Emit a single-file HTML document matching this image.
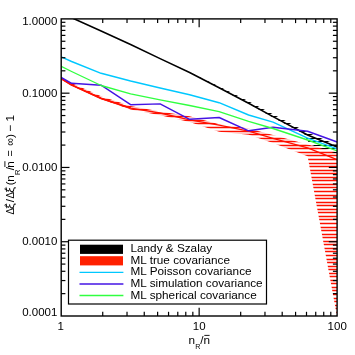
<!DOCTYPE html>
<html><head><meta charset="utf-8"><title>chart</title>
<style>html,body{margin:0;padding:0;background:#fff;}body{width:355px;height:355px;overflow:hidden;position:relative;font-family:"Liberation Sans",sans-serif;}</style>
</head><body>
<svg width="355" height="355" viewBox="0 0 355 355" style="position:absolute;left:0;top:0;opacity:0.999;will-change:opacity">
<defs><clipPath id="plot"><rect x="61.2" y="18.9" width="275.90000000000003" height="297.1"/></clipPath>
<clipPath id="cb"><polygon points="61.20,13.00 71.60,17.70 101.10,31.00 130.60,44.60 160.10,58.60 189.60,72.20 219.10,86.60 248.60,101.30 273.00,114.20 307.60,132.50 337.10,144.90 337.10,154.00 331.40,152.00 321.20,148.40 311.00,144.80 307.30,140.60 304.50,134.20 273.00,117.40 248.60,103.70 219.10,88.00 189.60,72.60 160.10,58.60 130.60,44.60 101.10,31.00 71.60,17.70 61.20,13.00"/></clipPath>
<clipPath id="cr"><polygon points="61.20,77.60 71.60,83.00 101.10,96.30 130.60,106.00 160.10,111.40 189.60,116.30 219.10,124.20 248.60,128.60 273.00,135.00 307.60,144.40 337.10,152.00 337.10,317.00 307.60,156.20 273.00,143.00 248.60,134.80 219.10,131.70 189.60,122.10 160.10,115.20 130.60,109.60 101.10,99.00 71.60,85.50 61.20,79.00"/></clipPath></defs>
<g clip-path="url(#plot)">
<polyline points="61.20,13.00 71.60,17.70 101.10,31.00 130.60,44.60 160.10,58.60 189.60,72.50 219.10,87.70 248.60,103.20 273.00,116.60 307.60,134.90 337.10,147.00" fill="none" stroke="#000" stroke-width="1.6"/>
<g clip-path="url(#cr)"><line x1="61.2" x2="337.1" y1="20.50" y2="20.50" stroke="#ff1000" stroke-width="1.45"/><line x1="61.2" x2="337.1" y1="24.50" y2="24.50" stroke="#ff1000" stroke-width="1.45"/><line x1="61.2" x2="337.1" y1="27.50" y2="27.50" stroke="#ff1000" stroke-width="1.45"/><line x1="61.2" x2="337.1" y1="31.50" y2="31.50" stroke="#ff1000" stroke-width="1.45"/><line x1="61.2" x2="337.1" y1="35.50" y2="35.50" stroke="#ff1000" stroke-width="1.45"/><line x1="61.2" x2="337.1" y1="38.50" y2="38.50" stroke="#ff1000" stroke-width="1.45"/><line x1="61.2" x2="337.1" y1="42.50" y2="42.50" stroke="#ff1000" stroke-width="1.45"/><line x1="61.2" x2="337.1" y1="45.50" y2="45.50" stroke="#ff1000" stroke-width="1.45"/><line x1="61.2" x2="337.1" y1="49.50" y2="49.50" stroke="#ff1000" stroke-width="1.45"/><line x1="61.2" x2="337.1" y1="52.50" y2="52.50" stroke="#ff1000" stroke-width="1.45"/><line x1="61.2" x2="337.1" y1="56.50" y2="56.50" stroke="#ff1000" stroke-width="1.45"/><line x1="61.2" x2="337.1" y1="59.50" y2="59.50" stroke="#ff1000" stroke-width="1.45"/><line x1="61.2" x2="337.1" y1="63.50" y2="63.50" stroke="#ff1000" stroke-width="1.45"/><line x1="61.2" x2="337.1" y1="67.50" y2="67.50" stroke="#ff1000" stroke-width="1.45"/><line x1="61.2" x2="337.1" y1="70.50" y2="70.50" stroke="#ff1000" stroke-width="1.45"/><line x1="61.2" x2="337.1" y1="74.50" y2="74.50" stroke="#ff1000" stroke-width="1.45"/><line x1="61.2" x2="337.1" y1="77.50" y2="77.50" stroke="#ff1000" stroke-width="1.45"/><line x1="61.2" x2="337.1" y1="81.50" y2="81.50" stroke="#ff1000" stroke-width="1.45"/><line x1="61.2" x2="337.1" y1="84.50" y2="84.50" stroke="#ff1000" stroke-width="1.45"/><line x1="61.2" x2="337.1" y1="88.50" y2="88.50" stroke="#ff1000" stroke-width="1.45"/><line x1="61.2" x2="337.1" y1="91.50" y2="91.50" stroke="#ff1000" stroke-width="1.45"/><line x1="61.2" x2="337.1" y1="95.50" y2="95.50" stroke="#ff1000" stroke-width="1.45"/><line x1="61.2" x2="337.1" y1="99.50" y2="99.50" stroke="#ff1000" stroke-width="1.45"/><line x1="61.2" x2="337.1" y1="102.50" y2="102.50" stroke="#ff1000" stroke-width="1.45"/><line x1="61.2" x2="337.1" y1="106.50" y2="106.50" stroke="#ff1000" stroke-width="1.45"/><line x1="61.2" x2="337.1" y1="109.50" y2="109.50" stroke="#ff1000" stroke-width="1.45"/><line x1="61.2" x2="337.1" y1="113.50" y2="113.50" stroke="#ff1000" stroke-width="1.45"/><line x1="61.2" x2="337.1" y1="116.50" y2="116.50" stroke="#ff1000" stroke-width="1.45"/><line x1="61.2" x2="337.1" y1="120.50" y2="120.50" stroke="#ff1000" stroke-width="1.45"/><line x1="61.2" x2="337.1" y1="123.50" y2="123.50" stroke="#ff1000" stroke-width="1.45"/><line x1="61.2" x2="337.1" y1="127.50" y2="127.50" stroke="#ff1000" stroke-width="1.45"/><line x1="61.2" x2="337.1" y1="131.50" y2="131.50" stroke="#ff1000" stroke-width="1.45"/><line x1="61.2" x2="337.1" y1="134.50" y2="134.50" stroke="#ff1000" stroke-width="1.45"/><line x1="61.2" x2="337.1" y1="138.50" y2="138.50" stroke="#ff1000" stroke-width="1.45"/><line x1="61.2" x2="337.1" y1="141.50" y2="141.50" stroke="#ff1000" stroke-width="1.45"/><line x1="61.2" x2="337.1" y1="145.50" y2="145.50" stroke="#ff1000" stroke-width="1.45"/><line x1="61.2" x2="337.1" y1="148.50" y2="148.50" stroke="#ff1000" stroke-width="1.45"/><line x1="61.2" x2="337.1" y1="152.50" y2="152.50" stroke="#ff1000" stroke-width="1.45"/><line x1="61.2" x2="337.1" y1="155.50" y2="155.50" stroke="#ff1000" stroke-width="1.45"/><line x1="61.2" x2="337.1" y1="159.50" y2="159.50" stroke="#ff1000" stroke-width="1.45"/><line x1="61.2" x2="337.1" y1="163.50" y2="163.50" stroke="#ff1000" stroke-width="1.45"/><line x1="61.2" x2="337.1" y1="166.50" y2="166.50" stroke="#ff1000" stroke-width="1.45"/><line x1="61.2" x2="337.1" y1="170.50" y2="170.50" stroke="#ff1000" stroke-width="1.45"/><line x1="61.2" x2="337.1" y1="173.50" y2="173.50" stroke="#ff1000" stroke-width="1.45"/><line x1="61.2" x2="337.1" y1="177.50" y2="177.50" stroke="#ff1000" stroke-width="1.45"/><line x1="61.2" x2="337.1" y1="180.50" y2="180.50" stroke="#ff1000" stroke-width="1.45"/><line x1="61.2" x2="337.1" y1="184.50" y2="184.50" stroke="#ff1000" stroke-width="1.45"/><line x1="61.2" x2="337.1" y1="187.50" y2="187.50" stroke="#ff1000" stroke-width="1.45"/><line x1="61.2" x2="337.1" y1="191.50" y2="191.50" stroke="#ff1000" stroke-width="1.45"/><line x1="61.2" x2="337.1" y1="195.50" y2="195.50" stroke="#ff1000" stroke-width="1.45"/><line x1="61.2" x2="337.1" y1="198.50" y2="198.50" stroke="#ff1000" stroke-width="1.45"/><line x1="61.2" x2="337.1" y1="202.50" y2="202.50" stroke="#ff1000" stroke-width="1.45"/><line x1="61.2" x2="337.1" y1="205.50" y2="205.50" stroke="#ff1000" stroke-width="1.45"/><line x1="61.2" x2="337.1" y1="209.50" y2="209.50" stroke="#ff1000" stroke-width="1.45"/><line x1="61.2" x2="337.1" y1="212.50" y2="212.50" stroke="#ff1000" stroke-width="1.45"/><line x1="61.2" x2="337.1" y1="216.50" y2="216.50" stroke="#ff1000" stroke-width="1.45"/><line x1="61.2" x2="337.1" y1="219.50" y2="219.50" stroke="#ff1000" stroke-width="1.45"/><line x1="61.2" x2="337.1" y1="223.50" y2="223.50" stroke="#ff1000" stroke-width="1.45"/><line x1="61.2" x2="337.1" y1="227.50" y2="227.50" stroke="#ff1000" stroke-width="1.45"/><line x1="61.2" x2="337.1" y1="230.50" y2="230.50" stroke="#ff1000" stroke-width="1.45"/><line x1="61.2" x2="337.1" y1="234.50" y2="234.50" stroke="#ff1000" stroke-width="1.45"/><line x1="61.2" x2="337.1" y1="237.50" y2="237.50" stroke="#ff1000" stroke-width="1.45"/><line x1="61.2" x2="337.1" y1="241.50" y2="241.50" stroke="#ff1000" stroke-width="1.45"/><line x1="61.2" x2="337.1" y1="244.50" y2="244.50" stroke="#ff1000" stroke-width="1.45"/><line x1="61.2" x2="337.1" y1="248.50" y2="248.50" stroke="#ff1000" stroke-width="1.45"/><line x1="61.2" x2="337.1" y1="251.50" y2="251.50" stroke="#ff1000" stroke-width="1.45"/><line x1="61.2" x2="337.1" y1="255.50" y2="255.50" stroke="#ff1000" stroke-width="1.45"/><line x1="61.2" x2="337.1" y1="259.50" y2="259.50" stroke="#ff1000" stroke-width="1.45"/><line x1="61.2" x2="337.1" y1="262.50" y2="262.50" stroke="#ff1000" stroke-width="1.45"/><line x1="61.2" x2="337.1" y1="266.50" y2="266.50" stroke="#ff1000" stroke-width="1.45"/><line x1="61.2" x2="337.1" y1="269.50" y2="269.50" stroke="#ff1000" stroke-width="1.45"/><line x1="61.2" x2="337.1" y1="273.50" y2="273.50" stroke="#ff1000" stroke-width="1.45"/><line x1="61.2" x2="337.1" y1="276.50" y2="276.50" stroke="#ff1000" stroke-width="1.45"/><line x1="61.2" x2="337.1" y1="280.50" y2="280.50" stroke="#ff1000" stroke-width="1.45"/><line x1="61.2" x2="337.1" y1="283.50" y2="283.50" stroke="#ff1000" stroke-width="1.45"/><line x1="61.2" x2="337.1" y1="287.50" y2="287.50" stroke="#ff1000" stroke-width="1.45"/><line x1="61.2" x2="337.1" y1="290.50" y2="290.50" stroke="#ff1000" stroke-width="1.45"/><line x1="61.2" x2="337.1" y1="294.50" y2="294.50" stroke="#ff1000" stroke-width="1.45"/><line x1="61.2" x2="337.1" y1="298.50" y2="298.50" stroke="#ff1000" stroke-width="1.45"/><line x1="61.2" x2="337.1" y1="301.50" y2="301.50" stroke="#ff1000" stroke-width="1.45"/><line x1="61.2" x2="337.1" y1="305.50" y2="305.50" stroke="#ff1000" stroke-width="1.45"/><line x1="61.2" x2="337.1" y1="308.50" y2="308.50" stroke="#ff1000" stroke-width="1.45"/><line x1="61.2" x2="337.1" y1="312.50" y2="312.50" stroke="#ff1000" stroke-width="1.45"/><line x1="61.2" x2="337.1" y1="315.50" y2="315.50" stroke="#ff1000" stroke-width="1.45"/></g>
<polyline points="61.20,78.50 71.60,85.00 101.10,98.40 130.60,108.10 160.10,113.00 189.60,119.80 219.10,125.10 248.60,131.20 273.00,138.40 307.60,147.80 337.10,159.60" fill="none" stroke="#ff1000" stroke-width="1.3" stroke-linejoin="round"/>
<polyline points="61.20,78.50 71.60,85.00 101.10,98.40 130.60,108.10" fill="none" stroke="#ff1000" stroke-width="1.8" stroke-linejoin="round"/>
<g clip-path="url(#cb)"><line x1="61.2" x2="337.1" y1="20.50" y2="20.50" stroke="#000" stroke-width="1.2"/><line x1="61.2" x2="337.1" y1="24.50" y2="24.50" stroke="#000" stroke-width="1.2"/><line x1="61.2" x2="337.1" y1="27.50" y2="27.50" stroke="#000" stroke-width="1.2"/><line x1="61.2" x2="337.1" y1="31.50" y2="31.50" stroke="#000" stroke-width="1.2"/><line x1="61.2" x2="337.1" y1="35.50" y2="35.50" stroke="#000" stroke-width="1.2"/><line x1="61.2" x2="337.1" y1="38.50" y2="38.50" stroke="#000" stroke-width="1.2"/><line x1="61.2" x2="337.1" y1="42.50" y2="42.50" stroke="#000" stroke-width="1.2"/><line x1="61.2" x2="337.1" y1="45.50" y2="45.50" stroke="#000" stroke-width="1.2"/><line x1="61.2" x2="337.1" y1="49.50" y2="49.50" stroke="#000" stroke-width="1.2"/><line x1="61.2" x2="337.1" y1="52.50" y2="52.50" stroke="#000" stroke-width="1.2"/><line x1="61.2" x2="337.1" y1="56.50" y2="56.50" stroke="#000" stroke-width="1.2"/><line x1="61.2" x2="337.1" y1="59.50" y2="59.50" stroke="#000" stroke-width="1.2"/><line x1="61.2" x2="337.1" y1="63.50" y2="63.50" stroke="#000" stroke-width="1.2"/><line x1="61.2" x2="337.1" y1="67.50" y2="67.50" stroke="#000" stroke-width="1.2"/><line x1="61.2" x2="337.1" y1="70.50" y2="70.50" stroke="#000" stroke-width="1.2"/><line x1="61.2" x2="337.1" y1="74.50" y2="74.50" stroke="#000" stroke-width="1.2"/><line x1="61.2" x2="337.1" y1="77.50" y2="77.50" stroke="#000" stroke-width="1.2"/><line x1="61.2" x2="337.1" y1="81.50" y2="81.50" stroke="#000" stroke-width="1.2"/><line x1="61.2" x2="337.1" y1="84.50" y2="84.50" stroke="#000" stroke-width="1.2"/><line x1="61.2" x2="337.1" y1="88.50" y2="88.50" stroke="#000" stroke-width="1.2"/><line x1="61.2" x2="337.1" y1="91.50" y2="91.50" stroke="#000" stroke-width="1.2"/><line x1="61.2" x2="337.1" y1="95.50" y2="95.50" stroke="#000" stroke-width="1.2"/><line x1="61.2" x2="337.1" y1="99.50" y2="99.50" stroke="#000" stroke-width="1.2"/><line x1="61.2" x2="337.1" y1="102.50" y2="102.50" stroke="#000" stroke-width="1.2"/><line x1="61.2" x2="337.1" y1="106.50" y2="106.50" stroke="#000" stroke-width="1.2"/><line x1="61.2" x2="337.1" y1="109.50" y2="109.50" stroke="#000" stroke-width="1.2"/><line x1="61.2" x2="337.1" y1="113.50" y2="113.50" stroke="#000" stroke-width="1.2"/><line x1="61.2" x2="337.1" y1="116.50" y2="116.50" stroke="#000" stroke-width="1.2"/><line x1="61.2" x2="337.1" y1="120.50" y2="120.50" stroke="#000" stroke-width="1.2"/><line x1="61.2" x2="337.1" y1="123.50" y2="123.50" stroke="#000" stroke-width="1.2"/><line x1="61.2" x2="337.1" y1="127.50" y2="127.50" stroke="#000" stroke-width="1.2"/><line x1="61.2" x2="337.1" y1="131.50" y2="131.50" stroke="#000" stroke-width="1.2"/><line x1="61.2" x2="337.1" y1="134.50" y2="134.50" stroke="#000" stroke-width="1.2"/><line x1="61.2" x2="337.1" y1="138.50" y2="138.50" stroke="#000" stroke-width="1.2"/><line x1="61.2" x2="337.1" y1="141.50" y2="141.50" stroke="#000" stroke-width="1.2"/><line x1="61.2" x2="337.1" y1="145.50" y2="145.50" stroke="#000" stroke-width="1.2"/><line x1="61.2" x2="337.1" y1="148.50" y2="148.50" stroke="#000" stroke-width="1.2"/><line x1="61.2" x2="337.1" y1="152.50" y2="152.50" stroke="#000" stroke-width="1.2"/><line x1="61.2" x2="337.1" y1="155.50" y2="155.50" stroke="#000" stroke-width="1.2"/><line x1="61.2" x2="337.1" y1="159.50" y2="159.50" stroke="#000" stroke-width="1.2"/><line x1="61.2" x2="337.1" y1="163.50" y2="163.50" stroke="#000" stroke-width="1.2"/><line x1="61.2" x2="337.1" y1="166.50" y2="166.50" stroke="#000" stroke-width="1.2"/><line x1="61.2" x2="337.1" y1="170.50" y2="170.50" stroke="#000" stroke-width="1.2"/><line x1="61.2" x2="337.1" y1="173.50" y2="173.50" stroke="#000" stroke-width="1.2"/><line x1="61.2" x2="337.1" y1="177.50" y2="177.50" stroke="#000" stroke-width="1.2"/><line x1="61.2" x2="337.1" y1="180.50" y2="180.50" stroke="#000" stroke-width="1.2"/><line x1="61.2" x2="337.1" y1="184.50" y2="184.50" stroke="#000" stroke-width="1.2"/><line x1="61.2" x2="337.1" y1="187.50" y2="187.50" stroke="#000" stroke-width="1.2"/><line x1="61.2" x2="337.1" y1="191.50" y2="191.50" stroke="#000" stroke-width="1.2"/><line x1="61.2" x2="337.1" y1="195.50" y2="195.50" stroke="#000" stroke-width="1.2"/><line x1="61.2" x2="337.1" y1="198.50" y2="198.50" stroke="#000" stroke-width="1.2"/><line x1="61.2" x2="337.1" y1="202.50" y2="202.50" stroke="#000" stroke-width="1.2"/><line x1="61.2" x2="337.1" y1="205.50" y2="205.50" stroke="#000" stroke-width="1.2"/><line x1="61.2" x2="337.1" y1="209.50" y2="209.50" stroke="#000" stroke-width="1.2"/><line x1="61.2" x2="337.1" y1="212.50" y2="212.50" stroke="#000" stroke-width="1.2"/><line x1="61.2" x2="337.1" y1="216.50" y2="216.50" stroke="#000" stroke-width="1.2"/><line x1="61.2" x2="337.1" y1="219.50" y2="219.50" stroke="#000" stroke-width="1.2"/><line x1="61.2" x2="337.1" y1="223.50" y2="223.50" stroke="#000" stroke-width="1.2"/><line x1="61.2" x2="337.1" y1="227.50" y2="227.50" stroke="#000" stroke-width="1.2"/><line x1="61.2" x2="337.1" y1="230.50" y2="230.50" stroke="#000" stroke-width="1.2"/><line x1="61.2" x2="337.1" y1="234.50" y2="234.50" stroke="#000" stroke-width="1.2"/><line x1="61.2" x2="337.1" y1="237.50" y2="237.50" stroke="#000" stroke-width="1.2"/><line x1="61.2" x2="337.1" y1="241.50" y2="241.50" stroke="#000" stroke-width="1.2"/><line x1="61.2" x2="337.1" y1="244.50" y2="244.50" stroke="#000" stroke-width="1.2"/><line x1="61.2" x2="337.1" y1="248.50" y2="248.50" stroke="#000" stroke-width="1.2"/><line x1="61.2" x2="337.1" y1="251.50" y2="251.50" stroke="#000" stroke-width="1.2"/><line x1="61.2" x2="337.1" y1="255.50" y2="255.50" stroke="#000" stroke-width="1.2"/><line x1="61.2" x2="337.1" y1="259.50" y2="259.50" stroke="#000" stroke-width="1.2"/><line x1="61.2" x2="337.1" y1="262.50" y2="262.50" stroke="#000" stroke-width="1.2"/><line x1="61.2" x2="337.1" y1="266.50" y2="266.50" stroke="#000" stroke-width="1.2"/><line x1="61.2" x2="337.1" y1="269.50" y2="269.50" stroke="#000" stroke-width="1.2"/><line x1="61.2" x2="337.1" y1="273.50" y2="273.50" stroke="#000" stroke-width="1.2"/><line x1="61.2" x2="337.1" y1="276.50" y2="276.50" stroke="#000" stroke-width="1.2"/><line x1="61.2" x2="337.1" y1="280.50" y2="280.50" stroke="#000" stroke-width="1.2"/><line x1="61.2" x2="337.1" y1="283.50" y2="283.50" stroke="#000" stroke-width="1.2"/><line x1="61.2" x2="337.1" y1="287.50" y2="287.50" stroke="#000" stroke-width="1.2"/><line x1="61.2" x2="337.1" y1="290.50" y2="290.50" stroke="#000" stroke-width="1.2"/><line x1="61.2" x2="337.1" y1="294.50" y2="294.50" stroke="#000" stroke-width="1.2"/><line x1="61.2" x2="337.1" y1="298.50" y2="298.50" stroke="#000" stroke-width="1.2"/><line x1="61.2" x2="337.1" y1="301.50" y2="301.50" stroke="#000" stroke-width="1.2"/><line x1="61.2" x2="337.1" y1="305.50" y2="305.50" stroke="#000" stroke-width="1.2"/><line x1="61.2" x2="337.1" y1="308.50" y2="308.50" stroke="#000" stroke-width="1.2"/><line x1="61.2" x2="337.1" y1="312.50" y2="312.50" stroke="#000" stroke-width="1.2"/><line x1="61.2" x2="337.1" y1="315.50" y2="315.50" stroke="#000" stroke-width="1.2"/></g>
<polyline points="61.20,56.80 71.60,61.50 101.10,73.30 130.60,81.00 160.10,88.00 189.60,94.70 219.10,102.70 248.60,115.00 273.00,122.10 307.60,138.20 337.10,148.90" fill="none" stroke="#00c8ff" stroke-width="1.4" stroke-linejoin="round"/>
<polyline points="61.20,77.50 71.60,83.30 101.10,85.20 130.60,104.70 160.10,103.90 189.60,119.30 219.10,117.50 248.60,130.80 273.00,127.30 307.60,131.30 337.10,142.00" fill="none" stroke="#4414e4" stroke-width="1.45" stroke-linejoin="round"/>
<polyline points="61.20,66.40 71.60,71.50 101.10,85.50 130.60,93.80 160.10,99.80 189.60,105.50 219.10,111.70 248.60,121.30 273.00,128.50 307.60,140.00 337.10,150.90" fill="none" stroke="#30ff40" stroke-width="1.35" stroke-linejoin="round"/>
</g>
<rect x="61.2" y="18.9" width="275.90000000000003" height="297.1" fill="none" stroke="#000" stroke-width="1.4"/><line x1="102.73" x2="102.73" y1="316.0" y2="311.8" stroke="#000" stroke-width="1.2"/><line x1="102.73" x2="102.73" y1="18.9" y2="23.099999999999998" stroke="#000" stroke-width="1.2"/><line x1="127.02" x2="127.02" y1="316.0" y2="311.8" stroke="#000" stroke-width="1.2"/><line x1="127.02" x2="127.02" y1="18.9" y2="23.099999999999998" stroke="#000" stroke-width="1.2"/><line x1="144.25" x2="144.25" y1="316.0" y2="311.8" stroke="#000" stroke-width="1.2"/><line x1="144.25" x2="144.25" y1="18.9" y2="23.099999999999998" stroke="#000" stroke-width="1.2"/><line x1="157.62" x2="157.62" y1="316.0" y2="311.8" stroke="#000" stroke-width="1.2"/><line x1="157.62" x2="157.62" y1="18.9" y2="23.099999999999998" stroke="#000" stroke-width="1.2"/><line x1="168.55" x2="168.55" y1="316.0" y2="311.8" stroke="#000" stroke-width="1.2"/><line x1="168.55" x2="168.55" y1="18.9" y2="23.099999999999998" stroke="#000" stroke-width="1.2"/><line x1="177.78" x2="177.78" y1="316.0" y2="311.8" stroke="#000" stroke-width="1.2"/><line x1="177.78" x2="177.78" y1="18.9" y2="23.099999999999998" stroke="#000" stroke-width="1.2"/><line x1="185.78" x2="185.78" y1="316.0" y2="311.8" stroke="#000" stroke-width="1.2"/><line x1="185.78" x2="185.78" y1="18.9" y2="23.099999999999998" stroke="#000" stroke-width="1.2"/><line x1="192.84" x2="192.84" y1="316.0" y2="311.8" stroke="#000" stroke-width="1.2"/><line x1="192.84" x2="192.84" y1="18.9" y2="23.099999999999998" stroke="#000" stroke-width="1.2"/><line x1="199.15" x2="199.15" y1="316.0" y2="307.7" stroke="#000" stroke-width="1.2"/><line x1="199.15" x2="199.15" y1="18.9" y2="27.2" stroke="#000" stroke-width="1.2"/><line x1="240.68" x2="240.68" y1="316.0" y2="311.8" stroke="#000" stroke-width="1.2"/><line x1="240.68" x2="240.68" y1="18.9" y2="23.099999999999998" stroke="#000" stroke-width="1.2"/><line x1="264.97" x2="264.97" y1="316.0" y2="311.8" stroke="#000" stroke-width="1.2"/><line x1="264.97" x2="264.97" y1="18.9" y2="23.099999999999998" stroke="#000" stroke-width="1.2"/><line x1="282.20" x2="282.20" y1="316.0" y2="311.8" stroke="#000" stroke-width="1.2"/><line x1="282.20" x2="282.20" y1="18.9" y2="23.099999999999998" stroke="#000" stroke-width="1.2"/><line x1="295.57" x2="295.57" y1="316.0" y2="311.8" stroke="#000" stroke-width="1.2"/><line x1="295.57" x2="295.57" y1="18.9" y2="23.099999999999998" stroke="#000" stroke-width="1.2"/><line x1="306.50" x2="306.50" y1="316.0" y2="311.8" stroke="#000" stroke-width="1.2"/><line x1="306.50" x2="306.50" y1="18.9" y2="23.099999999999998" stroke="#000" stroke-width="1.2"/><line x1="315.73" x2="315.73" y1="316.0" y2="311.8" stroke="#000" stroke-width="1.2"/><line x1="315.73" x2="315.73" y1="18.9" y2="23.099999999999998" stroke="#000" stroke-width="1.2"/><line x1="323.73" x2="323.73" y1="316.0" y2="311.8" stroke="#000" stroke-width="1.2"/><line x1="323.73" x2="323.73" y1="18.9" y2="23.099999999999998" stroke="#000" stroke-width="1.2"/><line x1="330.79" x2="330.79" y1="316.0" y2="311.8" stroke="#000" stroke-width="1.2"/><line x1="330.79" x2="330.79" y1="18.9" y2="23.099999999999998" stroke="#000" stroke-width="1.2"/><line x1="61.2" x2="65.4" y1="293.64" y2="293.64" stroke="#000" stroke-width="1.2"/><line x1="337.1" x2="332.90000000000003" y1="293.64" y2="293.64" stroke="#000" stroke-width="1.2"/><line x1="61.2" x2="65.4" y1="280.56" y2="280.56" stroke="#000" stroke-width="1.2"/><line x1="337.1" x2="332.90000000000003" y1="280.56" y2="280.56" stroke="#000" stroke-width="1.2"/><line x1="61.2" x2="65.4" y1="271.28" y2="271.28" stroke="#000" stroke-width="1.2"/><line x1="337.1" x2="332.90000000000003" y1="271.28" y2="271.28" stroke="#000" stroke-width="1.2"/><line x1="61.2" x2="65.4" y1="264.08" y2="264.08" stroke="#000" stroke-width="1.2"/><line x1="337.1" x2="332.90000000000003" y1="264.08" y2="264.08" stroke="#000" stroke-width="1.2"/><line x1="61.2" x2="65.4" y1="258.20" y2="258.20" stroke="#000" stroke-width="1.2"/><line x1="337.1" x2="332.90000000000003" y1="258.20" y2="258.20" stroke="#000" stroke-width="1.2"/><line x1="61.2" x2="65.4" y1="253.23" y2="253.23" stroke="#000" stroke-width="1.2"/><line x1="337.1" x2="332.90000000000003" y1="253.23" y2="253.23" stroke="#000" stroke-width="1.2"/><line x1="61.2" x2="65.4" y1="248.92" y2="248.92" stroke="#000" stroke-width="1.2"/><line x1="337.1" x2="332.90000000000003" y1="248.92" y2="248.92" stroke="#000" stroke-width="1.2"/><line x1="61.2" x2="65.4" y1="245.12" y2="245.12" stroke="#000" stroke-width="1.2"/><line x1="337.1" x2="332.90000000000003" y1="245.12" y2="245.12" stroke="#000" stroke-width="1.2"/><line x1="61.2" x2="69.5" y1="241.73" y2="241.73" stroke="#000" stroke-width="1.2"/><line x1="337.1" x2="328.8" y1="241.73" y2="241.73" stroke="#000" stroke-width="1.2"/><line x1="61.2" x2="65.4" y1="219.37" y2="219.37" stroke="#000" stroke-width="1.2"/><line x1="337.1" x2="332.90000000000003" y1="219.37" y2="219.37" stroke="#000" stroke-width="1.2"/><line x1="61.2" x2="65.4" y1="206.29" y2="206.29" stroke="#000" stroke-width="1.2"/><line x1="337.1" x2="332.90000000000003" y1="206.29" y2="206.29" stroke="#000" stroke-width="1.2"/><line x1="61.2" x2="65.4" y1="197.01" y2="197.01" stroke="#000" stroke-width="1.2"/><line x1="337.1" x2="332.90000000000003" y1="197.01" y2="197.01" stroke="#000" stroke-width="1.2"/><line x1="61.2" x2="65.4" y1="189.81" y2="189.81" stroke="#000" stroke-width="1.2"/><line x1="337.1" x2="332.90000000000003" y1="189.81" y2="189.81" stroke="#000" stroke-width="1.2"/><line x1="61.2" x2="65.4" y1="183.93" y2="183.93" stroke="#000" stroke-width="1.2"/><line x1="337.1" x2="332.90000000000003" y1="183.93" y2="183.93" stroke="#000" stroke-width="1.2"/><line x1="61.2" x2="65.4" y1="178.96" y2="178.96" stroke="#000" stroke-width="1.2"/><line x1="337.1" x2="332.90000000000003" y1="178.96" y2="178.96" stroke="#000" stroke-width="1.2"/><line x1="61.2" x2="65.4" y1="174.65" y2="174.65" stroke="#000" stroke-width="1.2"/><line x1="337.1" x2="332.90000000000003" y1="174.65" y2="174.65" stroke="#000" stroke-width="1.2"/><line x1="61.2" x2="65.4" y1="170.85" y2="170.85" stroke="#000" stroke-width="1.2"/><line x1="337.1" x2="332.90000000000003" y1="170.85" y2="170.85" stroke="#000" stroke-width="1.2"/><line x1="61.2" x2="69.5" y1="167.45" y2="167.45" stroke="#000" stroke-width="1.2"/><line x1="337.1" x2="328.8" y1="167.45" y2="167.45" stroke="#000" stroke-width="1.2"/><line x1="61.2" x2="65.4" y1="145.09" y2="145.09" stroke="#000" stroke-width="1.2"/><line x1="337.1" x2="332.90000000000003" y1="145.09" y2="145.09" stroke="#000" stroke-width="1.2"/><line x1="61.2" x2="65.4" y1="132.01" y2="132.01" stroke="#000" stroke-width="1.2"/><line x1="337.1" x2="332.90000000000003" y1="132.01" y2="132.01" stroke="#000" stroke-width="1.2"/><line x1="61.2" x2="65.4" y1="122.73" y2="122.73" stroke="#000" stroke-width="1.2"/><line x1="337.1" x2="332.90000000000003" y1="122.73" y2="122.73" stroke="#000" stroke-width="1.2"/><line x1="61.2" x2="65.4" y1="115.53" y2="115.53" stroke="#000" stroke-width="1.2"/><line x1="337.1" x2="332.90000000000003" y1="115.53" y2="115.53" stroke="#000" stroke-width="1.2"/><line x1="61.2" x2="65.4" y1="109.65" y2="109.65" stroke="#000" stroke-width="1.2"/><line x1="337.1" x2="332.90000000000003" y1="109.65" y2="109.65" stroke="#000" stroke-width="1.2"/><line x1="61.2" x2="65.4" y1="104.68" y2="104.68" stroke="#000" stroke-width="1.2"/><line x1="337.1" x2="332.90000000000003" y1="104.68" y2="104.68" stroke="#000" stroke-width="1.2"/><line x1="61.2" x2="65.4" y1="100.37" y2="100.37" stroke="#000" stroke-width="1.2"/><line x1="337.1" x2="332.90000000000003" y1="100.37" y2="100.37" stroke="#000" stroke-width="1.2"/><line x1="61.2" x2="65.4" y1="96.57" y2="96.57" stroke="#000" stroke-width="1.2"/><line x1="337.1" x2="332.90000000000003" y1="96.57" y2="96.57" stroke="#000" stroke-width="1.2"/><line x1="61.2" x2="69.5" y1="93.18" y2="93.18" stroke="#000" stroke-width="1.2"/><line x1="337.1" x2="328.8" y1="93.18" y2="93.18" stroke="#000" stroke-width="1.2"/><line x1="61.2" x2="65.4" y1="70.82" y2="70.82" stroke="#000" stroke-width="1.2"/><line x1="337.1" x2="332.90000000000003" y1="70.82" y2="70.82" stroke="#000" stroke-width="1.2"/><line x1="61.2" x2="65.4" y1="57.74" y2="57.74" stroke="#000" stroke-width="1.2"/><line x1="337.1" x2="332.90000000000003" y1="57.74" y2="57.74" stroke="#000" stroke-width="1.2"/><line x1="61.2" x2="65.4" y1="48.46" y2="48.46" stroke="#000" stroke-width="1.2"/><line x1="337.1" x2="332.90000000000003" y1="48.46" y2="48.46" stroke="#000" stroke-width="1.2"/><line x1="61.2" x2="65.4" y1="41.26" y2="41.26" stroke="#000" stroke-width="1.2"/><line x1="337.1" x2="332.90000000000003" y1="41.26" y2="41.26" stroke="#000" stroke-width="1.2"/><line x1="61.2" x2="65.4" y1="35.38" y2="35.38" stroke="#000" stroke-width="1.2"/><line x1="337.1" x2="332.90000000000003" y1="35.38" y2="35.38" stroke="#000" stroke-width="1.2"/><line x1="61.2" x2="65.4" y1="30.41" y2="30.41" stroke="#000" stroke-width="1.2"/><line x1="337.1" x2="332.90000000000003" y1="30.41" y2="30.41" stroke="#000" stroke-width="1.2"/><line x1="61.2" x2="65.4" y1="26.10" y2="26.10" stroke="#000" stroke-width="1.2"/><line x1="337.1" x2="332.90000000000003" y1="26.10" y2="26.10" stroke="#000" stroke-width="1.2"/><line x1="61.2" x2="65.4" y1="22.30" y2="22.30" stroke="#000" stroke-width="1.2"/><line x1="337.1" x2="332.90000000000003" y1="22.30" y2="22.30" stroke="#000" stroke-width="1.2"/>
<rect x="68.5" y="240.2" width="198.0" height="63.80000000000001" fill="#fff" stroke="#000" stroke-width="1.2"/>
<rect x="80" y="244.7" width="43" height="9.2" fill="#000"/>
<rect x="80" y="256.2" width="43" height="9.2" fill="#ff2000"/>
<line x1="79.5" x2="123.4" y1="272.4" y2="272.4" stroke="#00c8ff" stroke-width="1.3"/>
<line x1="79.5" x2="123.4" y1="284.0" y2="284.0" stroke="#4414e4" stroke-width="1.5"/>
<line x1="79.5" x2="123.4" y1="295.6" y2="295.6" stroke="#30ff40" stroke-width="1.5"/>
<g font-family="Liberation Sans, sans-serif" fill="#000">
<text x="130.5" y="251.9" font-size="11.75" text-anchor="start" >Landy &amp; Szalay</text>
<text x="130.5" y="263.6" font-size="11.75" text-anchor="start" >ML true covariance</text>
<text x="130.5" y="275.3" font-size="11.75" text-anchor="start" >ML Poisson covariance</text>
<text x="130.5" y="287.0" font-size="11.75" text-anchor="start" >ML simulation covariance</text>
<text x="130.5" y="298.7" font-size="11.75" text-anchor="start" >ML spherical covariance</text>
<text x="57.35" y="24.9" font-size="11.5" text-anchor="end" >1.0000</text>
<text x="57.35" y="96.6" font-size="11.5" text-anchor="end" >0.1000</text>
<text x="57.35" y="171.0" font-size="11.5" text-anchor="end" >0.0100</text>
<text x="57.35" y="245.2" font-size="11.5" text-anchor="end" >0.0010</text>
<text x="57.35" y="316.0" font-size="11.5" text-anchor="end" >0.0001</text>
<text x="60.8" y="330.2" font-size="11.5" text-anchor="middle" >1</text>
<text x="199.2" y="330.2" font-size="11.5" text-anchor="middle" >10</text>
<text x="337.2" y="330.2" font-size="11.5" text-anchor="middle" >100</text>
<text x="188.5" y="343.7" font-size="11.75">n<tspan font-size="7.2" dy="5.4" dx="0.3">R</tspan><tspan dy="-5.4" dx="-0.3">/n</tspan></text>
<line x1="204.3" x2="209.6" y1="335.4" y2="335.4" stroke="#000" stroke-width="0.9"/>
<g transform="translate(13.5,214.0) rotate(-90)"><text transform="translate(-0.6,0) scale(0.83,1)" font-size="11.75">Δ</text><text transform="translate(4.7,0) scale(1.15,1)" font-size="11.75">ξ</text><text transform="translate(11.8,0) scale(1,1)" font-size="11.75">/</text><text transform="translate(15.5,0) scale(0.83,1)" font-size="11.75">Δ</text><text transform="translate(20.9,0) scale(1.15,1)" font-size="11.75">ξ</text><text transform="translate(28.65,0) scale(1,1)" font-size="11.75">(</text><text transform="translate(32.15,0) scale(1,1)" font-size="11.75">n</text><text transform="translate(38.9,6.0) scale(1,1)" font-size="7.6">R</text><text transform="translate(43.7,0) scale(1,1)" font-size="11.75">/</text><text transform="translate(46.15,0) scale(1,1)" font-size="11.75">n</text><text transform="translate(57.6,0) scale(0.9,1)" font-size="11.75">=</text><text transform="translate(68.3,0) scale(0.92,1)" font-size="11.75">∞</text><text transform="translate(75.9,0) scale(1,1)" font-size="11.75">)</text><text transform="translate(82.85,0) scale(1,1)" font-size="11.75">−</text><text transform="translate(92.55,0) scale(1,1)" font-size="11.75">1</text></g>
<polyline points="6.4,206.8 4.7,205.3 6.4,203.8" fill="none" stroke="#000" stroke-width="0.8"/>
<polyline points="6.4,190.4 4.7,188.9 6.4,187.4" fill="none" stroke="#000" stroke-width="0.8"/>
<line x1="4.9" x2="4.9" y1="167.0" y2="161.2" stroke="#000" stroke-width="0.9"/>
</g>
</svg>
</body></html>
